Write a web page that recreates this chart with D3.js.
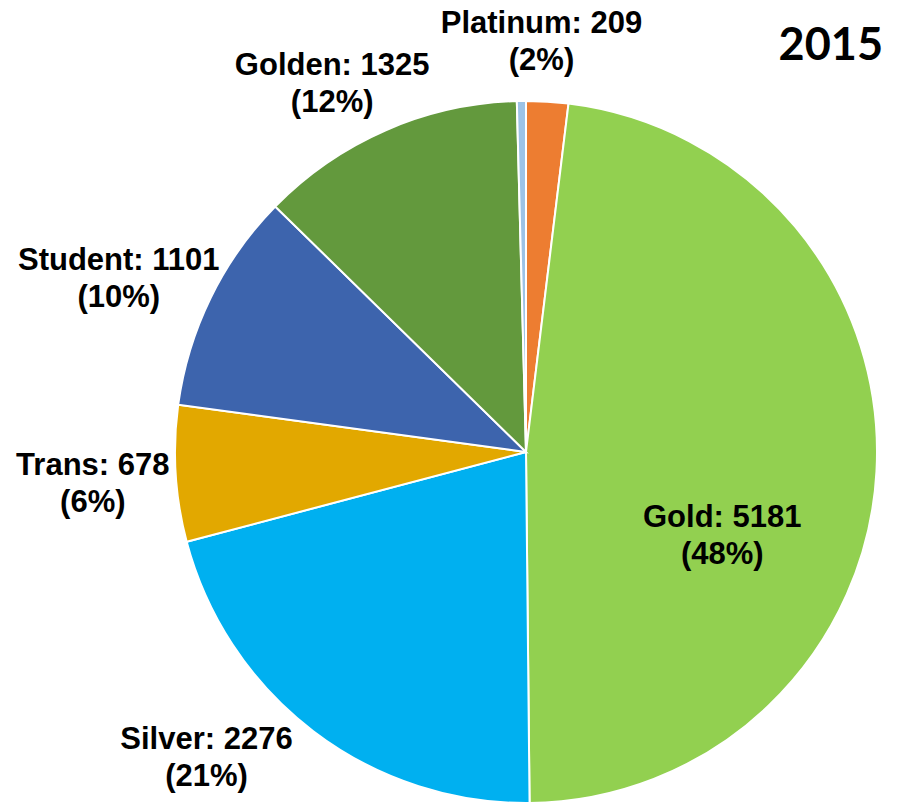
<!DOCTYPE html>
<html>
<head>
<meta charset="utf-8">
<script src="https://cdn.jsdelivr.net/npm/d3@7"></script>
<style>
  body { margin: 0; background: #fff; }
</style>
</head>
<body>
<div id="container"></div>
<script>
let w = 903;
let h = 807;

// data (last slice is an unlabeled sliver)
let categories = ['Platinum', 'Gold', 'Silver', 'Trans', 'Student', 'Golden', ''];
let values = [209, 5181, 2276, 678, 1101, 1325, 45];
let percents = ['2%', '48%', '21%', '6%', '10%', '12%', ''];
let colors = ['#ED7D31', '#92D050', '#00B0F0', '#E2A800', '#3D64AD', '#63993D', '#9DC3E6'];

// label nudges from the default label spot (layout only)
let nudges = [[-10, 0], [21, 65], [-65, -37], [-14, -3], [-30, 3], [-26, 8], [0, 0]];
let inside = [false, true, false, false, false, false, false];

let cx = 526;
let cy = 452;
let r = 351;

let viz = d3.select('#container')
  .append('svg')
    .attr('width', w)
    .attr('height', h)
    .style('background-color', 'white')
;

let data = categories.map(function(c, i){
  return {name: c, value: values[i], pct: percents[i], color: colors[i], i: i};
});

let pie = d3.pie().sort(null).value(function(d){ return d.value; });
let arcs = pie(data);

let arc = d3.arc().innerRadius(0).outerRadius(r);
let labelArc = d3.arc().innerRadius(420).outerRadius(420);

let g = viz.append('g').attr('transform', 'translate(' + cx + ',' + cy + ')');

g.selectAll('path').data(arcs).enter().append('path')
  .attr('d', arc)
  .attr('fill', function(d){ return d.data.color; })
  .attr('stroke', 'white')
  .attr('stroke-width', 2)
;

let labels = g.selectAll('text.lab').data(arcs.filter(function(d){ return d.data.name != ''; }))
  .enter().append('text')
  .attr('class', 'lab')
  .attr('font-family', '"Liberation Sans", Arial, sans-serif')
  .attr('font-weight', 'bold')
  .attr('font-size', '31px')
  .attr('text-anchor', 'middle')
  .attr('fill', 'black')
  .attr('transform', function(d){
    let p = inside[d.data.i] ? arc.centroid(d) : labelArc.centroid(d);
    let n = nudges[d.data.i];
    return 'translate(' + (p[0] + n[0]) + ',' + (p[1] + n[1]) + ')';
  })
;

labels.append('tspan')
  .attr('x', 0)
  .attr('y', 0)
  .text(function(d){ return d.data.name + ': ' + d.data.value; });

labels.append('tspan')
  .attr('x', 0)
  .attr('y', 37)
  .text(function(d){ return '(' + d.data.pct + ')'; });

viz.append('text')
  .attr('x', 883)
  .attr('y', 60)
  .attr('text-anchor', 'end')
  .attr('font-family', 'Lato, "Open Sans", sans-serif')
  .attr('font-weight', 'bold')
  .attr('font-size', '45px')
  .text('2015');
</script>
</body>
</html>
